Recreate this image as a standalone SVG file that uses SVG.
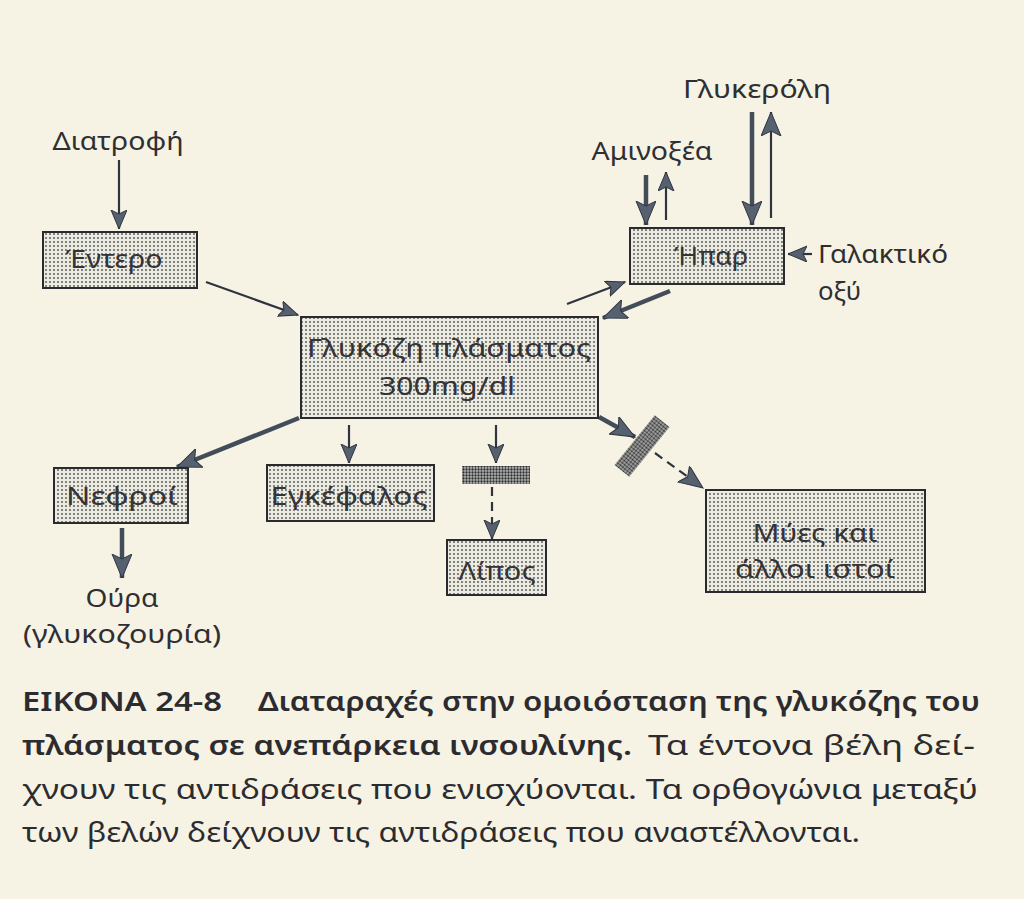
<svg xmlns="http://www.w3.org/2000/svg" width="1024" height="899" viewBox="0 0 1024 899">
<style>
.lbl{font-family:"Noto Sans","DejaVu Sans",sans-serif;font-size:25px;fill:#2f2f33}
.box{fill:url(#dots);stroke:#2a2a2e;stroke-width:2}
.btxt{font-family:"Noto Sans","DejaVu Sans",sans-serif;font-size:26px;fill:#333338}
.cap{font-family:"Noto Sans","DejaVu Sans",sans-serif;font-size:27px;fill:#2c2c30}
.b{font-weight:600}
.thick{stroke:#434c59;stroke-width:4.5;fill:none}
.thin{stroke:#2f3440;stroke-width:2.2;fill:none}
.dash{stroke:#2f3440;stroke-width:2.2;fill:none;stroke-dasharray:9 6}
.bar{fill:url(#dense);stroke:none}
</style>
<defs>
<pattern id="dots" width="4" height="4" patternUnits="userSpaceOnUse">
<rect width="4" height="4" fill="#ecebe2"/>
<circle cx="2" cy="2" r="0.95" fill="#555"/>
</pattern>
<pattern id="dense" width="3" height="3" patternUnits="userSpaceOnUse">
<rect width="3" height="3" fill="#b4b4b4"/>
<circle cx="1.5" cy="1.5" r="1.15" fill="#2e2e2e"/>
</pattern>
<marker id="hb" markerUnits="userSpaceOnUse" markerWidth="26" markerHeight="22" refX="24" refY="10" orient="auto">
<path d="M0,0 L24,10 L0,20 L5,10 z" fill="#56616f" stroke="#2f3440" stroke-width="1"/>
</marker>
<marker id="hs" markerUnits="userSpaceOnUse" markerWidth="22" markerHeight="18" refX="19" refY="8" orient="auto">
<path d="M0,0 L19,8 L0,16 L4,8 z" fill="#56616f" stroke="#2f3440" stroke-width="1"/>
</marker>
</defs>
<rect width="1024" height="899" fill="#f6f3e4"/>

<g id="connectors">
<line class="thin" x1="119" y1="160" x2="119" y2="229" marker-end="url(#hs)"/>
<line class="thin" x1="206" y1="282" x2="298" y2="315" marker-end="url(#hs)"/>
<line class="thin" x1="567" y1="304" x2="625" y2="282" marker-end="url(#hs)"/>
<line class="thick" x1="670" y1="291" x2="603" y2="318" marker-end="url(#hb)"/>
<line class="thick" x1="646" y1="175" x2="646" y2="225" marker-end="url(#hb)"/>
<line class="thin" x1="666" y1="220" x2="666" y2="172" marker-end="url(#hs)"/>
<line class="thick" x1="752" y1="112" x2="752" y2="225" marker-end="url(#hb)"/>
<line class="thin" x1="771" y1="218" x2="771" y2="112" marker-end="url(#hb)"/>
<line class="thin" x1="812" y1="254" x2="788" y2="254" marker-end="url(#hs)"/>
<line class="thick" x1="299" y1="418" x2="177" y2="467" marker-end="url(#hb)"/>
<line class="thick" x1="122" y1="528" x2="122" y2="578" marker-end="url(#hb)"/>
<line class="thin" x1="349" y1="425" x2="349" y2="463" marker-end="url(#hs)"/>
<line class="thin" x1="496" y1="425" x2="496" y2="463" marker-end="url(#hs)"/>
<line class="dash" x1="492" y1="487" x2="492" y2="539" marker-end="url(#hs)"/>
<line class="thick" x1="599" y1="417" x2="635" y2="437" marker-end="url(#hb)"/>
<line class="dash" x1="655" y1="453" x2="703" y2="488" marker-end="url(#hb)"/>
</g>

<g id="inhibit-fat"><rect class="bar" x="462" y="466" width="68" height="18"/></g>
<g id="inhibit-muscle"><rect class="bar" x="-32" y="-9.5" width="64" height="19" transform="translate(642,446) rotate(-51)"/></g>

<g id="diatrofi"><text class="lbl" x="118" y="150" text-anchor="middle" textLength="131" lengthAdjust="spacingAndGlyphs">Διατροφή</text></g>
<g id="entero"><rect class="box" x="43" y="232" width="154" height="56"/><text class="btxt" x="114" y="268" text-anchor="middle" textLength="97" lengthAdjust="spacingAndGlyphs">Έντερο</text></g>
<g id="glucose"><rect class="box" x="301" y="317" width="297" height="101"/><text class="btxt" x="449" y="357" text-anchor="middle" textLength="284" lengthAdjust="spacingAndGlyphs">Γλυκόζη πλάσματος</text><text class="btxt" x="447" y="395" text-anchor="middle" textLength="136" lengthAdjust="spacingAndGlyphs">300mg/dl</text></g>
<g id="ipar"><rect class="box" x="630" y="228" width="154" height="56"/><text class="btxt" x="711" y="265" text-anchor="middle" textLength="74" lengthAdjust="spacingAndGlyphs">Ήπαρ</text></g>
<g id="aminoxea"><text class="lbl" x="652" y="160" text-anchor="middle" textLength="121" lengthAdjust="spacingAndGlyphs">Αμινοξέα</text></g>
<g id="glykeroli"><text class="lbl" x="757" y="98" text-anchor="middle" textLength="148" lengthAdjust="spacingAndGlyphs">Γλυκερόλη</text></g>
<g id="galaktiko"><text class="lbl" x="818" y="263" textLength="130" lengthAdjust="spacingAndGlyphs">Γαλακτικό</text><text class="lbl" x="818" y="300" textLength="43" lengthAdjust="spacingAndGlyphs">οξύ</text></g>
<g id="nefroi"><rect class="box" x="54" y="468" width="134" height="55"/><text class="btxt" x="122" y="505" text-anchor="middle" textLength="112" lengthAdjust="spacingAndGlyphs">Νεφροί</text></g>
<g id="oura"><text class="lbl" x="122" y="607" text-anchor="middle" textLength="73" lengthAdjust="spacingAndGlyphs">Ούρα</text><text class="lbl" x="122" y="643" text-anchor="middle" textLength="198" lengthAdjust="spacingAndGlyphs">(γλυκοζουρία)</text></g>
<g id="enkefalos"><rect class="box" x="267" y="465" width="167" height="56"/><text class="btxt" x="349" y="505" text-anchor="middle" textLength="157" lengthAdjust="spacingAndGlyphs">Εγκέφαλος</text></g>
<g id="lipos"><rect class="box" x="447" y="540" width="99" height="55"/><text class="btxt" x="497" y="580" text-anchor="middle" textLength="77" lengthAdjust="spacingAndGlyphs">Λίπος</text></g>
<g id="mues"><rect class="box" x="706" y="490" width="219" height="102"/><text class="btxt" x="815" y="542" text-anchor="middle" textLength="125" lengthAdjust="spacingAndGlyphs">Μύες και</text><text class="btxt" x="815" y="578" text-anchor="middle" textLength="160" lengthAdjust="spacingAndGlyphs">άλλοι ιστοί</text></g>

<g id="caption">
<text class="cap b" x="22" y="711" textLength="200" lengthAdjust="spacingAndGlyphs">ΕΙΚΟΝΑ 24-8</text>
<text class="cap b" x="258" y="711" textLength="722" lengthAdjust="spacingAndGlyphs">Διαταραχές στην ομοιόσταση της γλυκόζης του</text>
<text class="cap b" x="22" y="755" textLength="610" lengthAdjust="spacingAndGlyphs">πλάσματος σε ανεπάρκεια ινσουλίνης.</text>
<text class="cap" x="648" y="755" textLength="327" lengthAdjust="spacingAndGlyphs">Τα έντονα βέλη δεί-</text>
<text class="cap" x="22" y="799" textLength="956" lengthAdjust="spacingAndGlyphs">χνουν τις αντιδράσεις που ενισχύονται. Τα ορθογώνια μεταξύ</text>
<text class="cap" x="22" y="842" textLength="838" lengthAdjust="spacingAndGlyphs">των βελών δείχνουν τις αντιδράσεις που αναστέλλονται.</text>
</g>
</svg>
